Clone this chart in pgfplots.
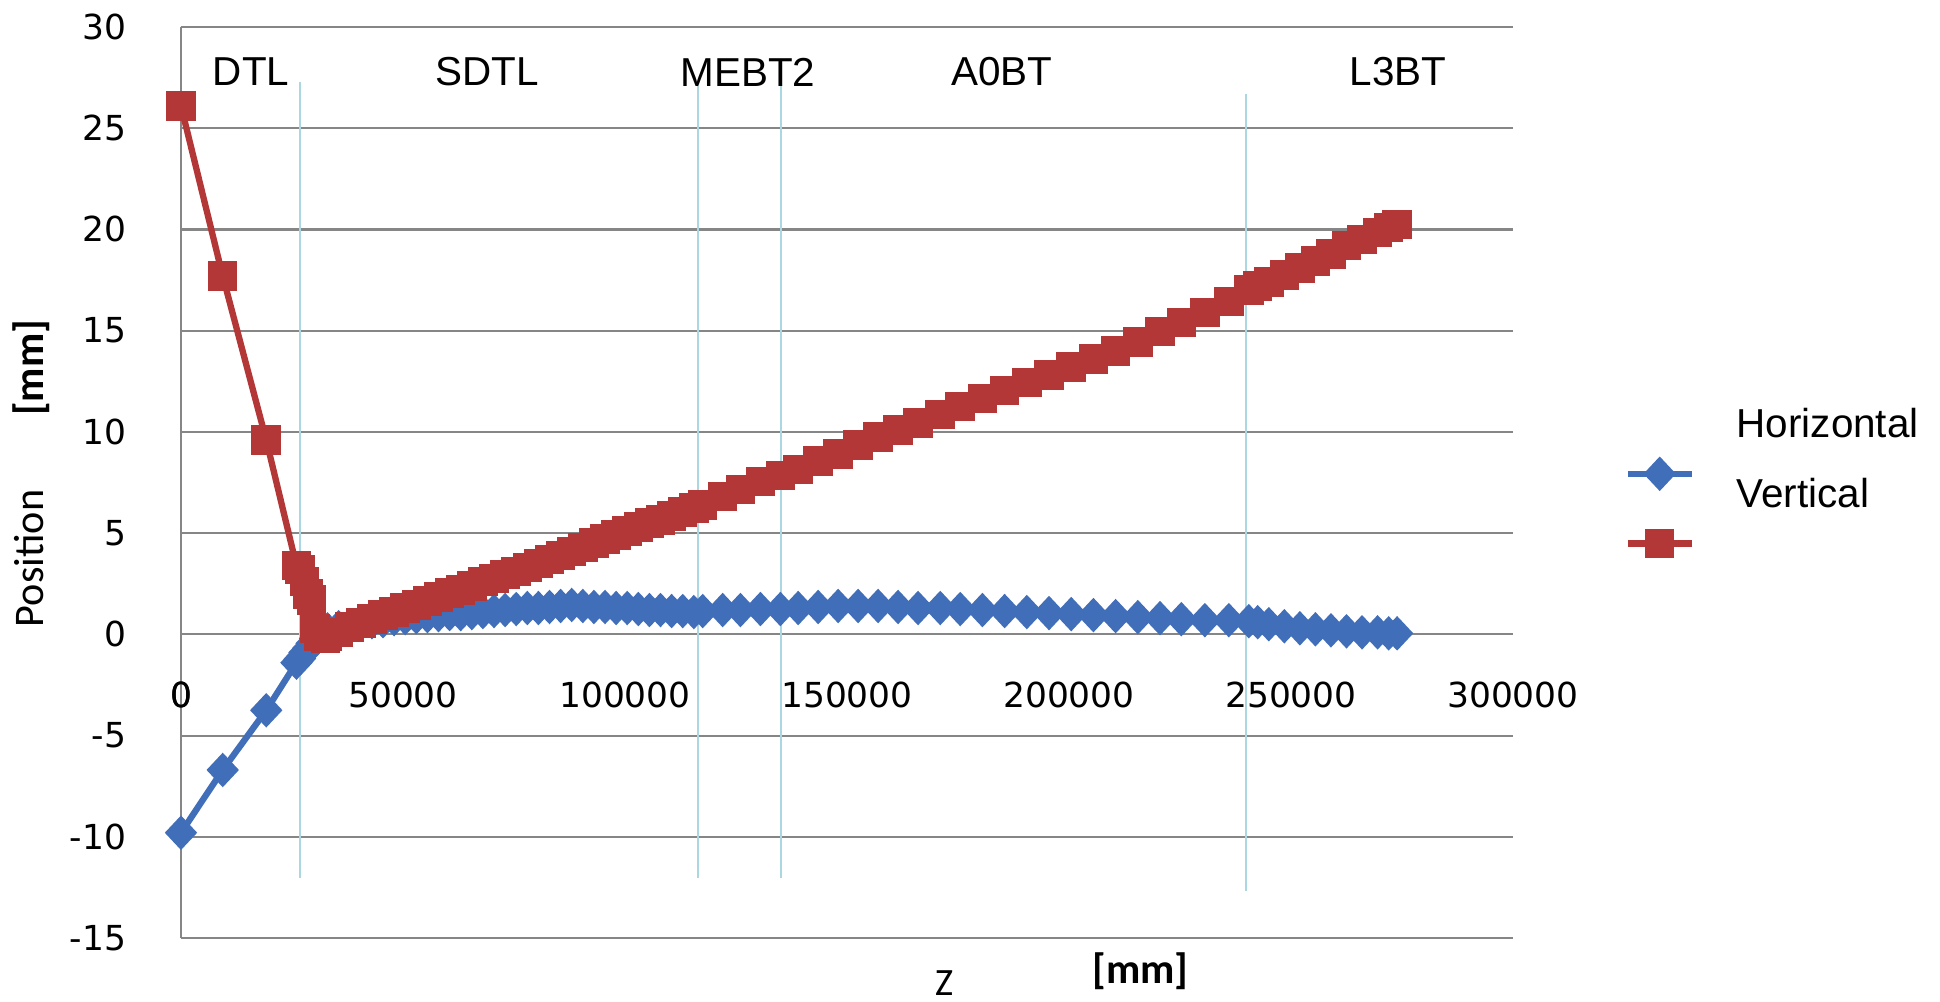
\documentclass[border=0pt]{standalone}
\usepackage{pgfplots}
\pgfplotsset{compat=1.18}
\usepackage{fontspec}
\setmainfont{Liberation Sans}
\newfontfamily\tickfont{DejaVu Sans}
\newfontfamily\calib{Carlito}

\definecolor{hblue}{RGB}{65,110,185}
\definecolor{vred}{RGB}{180,55,55}
\definecolor{sectline}{RGB}{170,215,225}
\definecolor{gridgray}{RGB}{134,134,134}

\pgfplotsset{
  shiftedlegend/.style={
    legend image code/.code={
      \draw[overlay, mark repeat=2, mark phase=2, ##1]
        plot coordinates {(0mm,-4.8mm) (3.2mm,-4.8mm) (6.4mm,-4.8mm)};
      \path[draw=none, fill=none] (0mm,0mm) rectangle (6.4mm,0.1mm);
    }
  }
}

% beam centroid along the line
\pgfplotstableread{
z       h      v
0      -9.80  26.10
9400   -6.70  17.70
19200  -3.75   9.60
26000  -1.40   3.40
26800  -1.20   3.20
27800  -0.90   2.60
28600  -0.70   2.00
29400  -0.45   1.70
30200  -0.20   0.30
31000   0.00  -0.10
32500   0.20  -0.20
33000   0.25  -0.10
35500   0.35   0.10
38000   0.45   0.35
40500   0.55   0.55
43000   0.60   0.75
45500   0.65   0.95
48000   0.75   1.10
50500   0.80   1.30
53000   0.85   1.45
55500   0.90   1.65
58000   0.95   1.85
60500   1.00   2.05
63000   1.00   2.20
65500   1.05   2.40
68000   1.10   2.60
70500   1.15   2.75
73000   1.20   2.95
75500   1.25   3.10
78000   1.30   3.30
80500   1.30   3.50
83000   1.35   3.70
85500   1.40   3.90
88000   1.45   4.10
90500   1.40   4.30
93000   1.35   4.50
95500   1.35   4.70
98000   1.30   4.90
100500  1.30   5.10
103000  1.25   5.30
105500  1.20   5.50
108000  1.20   5.65
110500  1.15   5.85
113000  1.15   6.05
115500  1.10   6.25
117500  1.15   6.40
122000  1.20   6.80
126000  1.20   7.15
130500  1.25   7.55
135000  1.25   7.85
139000  1.30   8.15
143500  1.35   8.55
148000  1.40   8.90
152500  1.40   9.35
157000  1.40   9.75
161500  1.35  10.10
166000  1.30  10.45
171000  1.30  10.85
175500  1.25  11.25
180500  1.20  11.65
185500  1.15  12.05
190500  1.10  12.45
195500  1.05  12.80
200500  1.00  13.20
205500  0.95  13.60
210500  0.90  14.00
215500  0.85  14.45
220500  0.80  14.95
225300  0.75  15.40
230600  0.70  15.90
236000  0.70  16.45
240500  0.65  17.00
242500  0.60  17.20
245000  0.50  17.40
248500  0.40  17.75
252000  0.30  18.10
255500  0.25  18.45
259000  0.20  18.80
262500  0.15  19.20
266000  0.10  19.50
269500  0.10  19.85
272000  0.05  20.10
273900  0.05  20.25
}\beamdata

\begin{document}
\begin{tikzpicture}
\useasboundingbox (-18.1mm,-6.3mm) rectangle (175.9mm,93.8mm);
\begin{axis}[
  scale only axis, width=133.2mm, height=91.1mm,
  xmin=0, xmax=300000, ymin=-15, ymax=30,
  axis x line=middle, axis y line=left,
  axis line style={gridgray, line width=0.6pt, -},
  x axis line style={-}, y axis line style={-},
  hide obscured x ticks=false, hide obscured y ticks=false,
  xtick={0,50000,100000,150000,200000,250000,300000},
  xticklabels={0,50000,100000,150000,200000,250000,300000},
  scaled x ticks=false,
  ytick={-15,-10,-5,0,5,10,15,20,25,30},
  yticklabels={-15,-10,-5,0,5,10,15,20,25,30},
  major tick length=0pt,
  xticklabel style={font=\fontsize{9.8}{11}\tickfont, yshift=-3.5mm},
  yticklabel style={font=\fontsize{9.8}{11}\tickfont, xshift=-4.25mm},
  ymajorgrids, major grid style={gridgray, line width=0.6pt},
  clip=false,
  xlabel={Z},
  xlabel style={at={(axis description cs:0.573,0)}, anchor=center, yshift=-4.55mm,
    font=\fontsize{11}{13}\calib},
  ylabel={Position\hspace{7.4mm}\textbf{[mm]}},
  ylabel style={at={(axis description cs:-0.1126,0.51)}, anchor=center,
    font=\fontsize{12}{14}\calib},
  legend style={at={(axis description cs:1.0856,0.582)}, anchor=north west,
    draw=none, fill=none, inner sep=0pt, row sep=3.5mm,
    font=\fontsize{11.5}{13}\selectfont,
    nodes={inner sep=0pt},
    /tikz/every odd column/.append style={column sep=4.5mm}},
  legend cell align=left,
  shiftedlegend,
]
% section boundaries
\addplot[sectline, line width=0.6pt, forget plot] coordinates {(26800,27.3) (26800,-12.05)};
\addplot[sectline, line width=0.6pt, forget plot] coordinates {(116400,27.1) (116400,-12.05)};
\addplot[sectline, line width=0.6pt, forget plot] coordinates {(135100,27.1) (135100,-12.05)};
\addplot[sectline, line width=0.6pt, forget plot] coordinates {(239900,26.7) (239900,-12.7)};

\addplot[hblue, line width=1.8pt, mark=diamond*, mark size=3.6pt,
  mark options={solid, xscale=1.25}] table[x=z, y=h] {\beamdata};
\addlegendentry{Horizontal}
\addplot[vred, line width=1.8pt, mark=square*, mark size=3.3pt,
  mark options={solid}] table[x=z, y=v] {\beamdata};
\addlegendentry{Vertical}

\node[font=\fontsize{11.5}{13}\selectfont] at (axis cs:15766,27.78) {DTL};
\node[font=\fontsize{11.5}{13}\selectfont] at (axis cs:68919,27.78) {SDTL};
\node[font=\fontsize{11.5}{13}\selectfont] at (axis cs:127700,27.78) {MEBT2};
\node[font=\fontsize{11.5}{13}\selectfont] at (axis cs:184900,27.78) {A0BT};
\node[font=\fontsize{11.5}{13}\selectfont] at (axis cs:274100,27.78) {L3BT};
\node[font=\fontsize{9.8}{11}\tickfont, anchor=north, yshift=-3.5mm, inner sep=0.333em]
  at (axis cs:0,0) {0};
\node[font=\fontsize{12}{14}\calib\bfseries] at (axis description cs:0.7204,0) [yshift=-3.3mm] {[mm]};
\end{axis}
\end{tikzpicture}
\end{document}
